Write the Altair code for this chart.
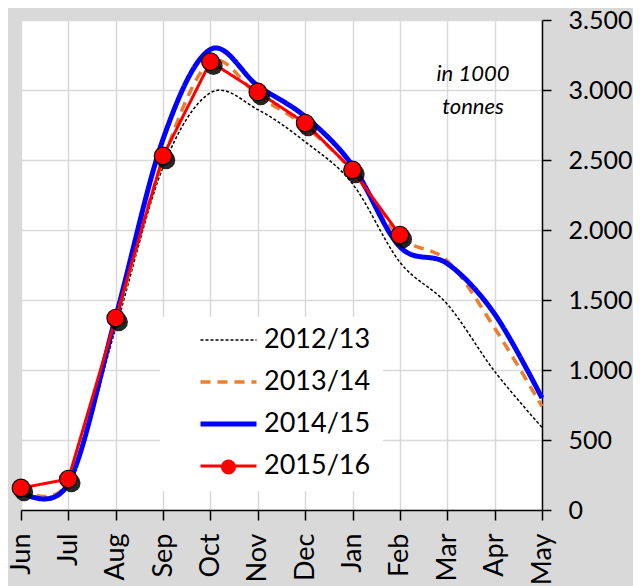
import altair as alt
import pandas as pd

months = ["Jun", "Jul", "Aug", "Sep", "Oct", "Nov", "Dec", "Jan", "Feb", "Mar", "Apr", "May"]
series_names = ["2012/13", "2013/14", "2014/15", "2015/16"]
v_2012_13 = [140, 190, 1300, 2450, 2980, 2860, 2630, 2330, 1770, 1470, 990, 590]
v_2013_14 = [150, 200, 1350, 2500, 3200, 2960, 2740, 2420, 1950, 1780, 1300, 740]
v_2014_15 = [130, 190, 1380, 2650, 3290, 3030, 2810, 2460, 1880, 1760, 1400, 800]
v_2015_16 = [157, 221, 1371, 2529, 3202, 2986, 2764, 2429, 1964]
colors = ["#000000", "#ed7d31", "#0000ff", "#ff0000"]
dashes = [[3, 2], [10, 7], [1, 0], [1, 0]]
widths = [1.5, 3.5, 5, 3]
note = "in 1000\ntonnes"

rows = []
for name, vals in zip(series_names, [v_2012_13, v_2013_14, v_2014_15, v_2015_16]):
    for m, v in zip(months, vals):
        rows.append({"month": m, "series": name, "value": v})
df = pd.DataFrame(rows)
smooth_df = df[df["series"] != "2015/16"]
cur_df = df[df["series"] == "2015/16"]

FONT = "Lato"
GRID = "#d9d9d9"

x_enc = alt.X(
    "month:N", sort=months,
    scale=alt.Scale(type="point", padding=0, domain=months),
    axis=alt.Axis(title=None, grid=True, gridColor=GRID, gridWidth=1.5,
                  domainColor="black", domainWidth=1.5, tickColor="black",
                  tickWidth=1.5, tickSize=10, labelAngle=270, labelFontSize=27,
                  labelFont=FONT, labelColor="black", labelPadding=13),
)
y_enc = alt.Y(
    "value:Q",
    scale=alt.Scale(domain=[0, 3500], nice=False),
    axis=alt.Axis(title=None, orient="right", values=list(range(0, 3501, 500)),
                  grid=True, gridColor=GRID, gridWidth=1.5,
                  domainColor="black", domainWidth=1.5, tickColor="black",
                  tickWidth=1.5, tickSize=9, labelFontSize=25, labelFont=FONT,
                  labelColor="black", labelPadding=17,
                  labelExpr="replace(format(datum.value, ',d'), ',', '.')"),
)

main_legend = alt.Legend(
    title=None, orient="none", legendX=139, legendY=297, fillColor="white",
    padding=12, symbolType="stroke", symbolSize=3136, clipHeight=22,
    rowPadding=15, labelFontSize=27, labelFont=FONT, labelColor="black",
    labelOffset=5, symbolOffset=26,
)
color_enc = alt.Color("series:N", scale=alt.Scale(domain=series_names, range=colors), legend=main_legend)
dash_enc = alt.StrokeDash("series:N", scale=alt.Scale(domain=series_names, range=dashes), legend=main_legend)
width_enc = alt.StrokeWidth("series:N", scale=alt.Scale(type="ordinal", domain=series_names, range=widths), legend=main_legend)

smooth = alt.Chart(smooth_df).mark_line(interpolate="cardinal").encode(
    x=x_enc, y=y_enc, color=color_enc, strokeDash=dash_enc, strokeWidth=width_enc
)
cur_line = alt.Chart(cur_df).mark_line().encode(
    x=x_enc, y=y_enc, color=color_enc, strokeDash=dash_enc, strokeWidth=width_enc
)
shadow = alt.Chart(cur_df).mark_circle(color="black", size=340, opacity=0.85, xOffset=3, yOffset=4).encode(
    x=x_enc, y=y_enc
)
points = alt.Chart(cur_df).mark_point(filled=True, fill="#ff0000", stroke="black", strokeWidth=1.2, size=310, opacity=1).encode(
    x=x_enc, y=y_enc,
    shape=alt.Shape("series:N", scale=alt.Scale(domain=["2015/16"], range=["circle"]),
                    legend=alt.Legend(title=None, orient="none", legendX=194, legendY=436,
                                      padding=0, symbolSize=230, symbolFillColor="#ff0000",
                                      symbolStrokeColor="black", symbolStrokeWidth=1.2,
                                      labelExpr="''", clipHeight=22, labelFontSize=27,
                                      labelFont=FONT)),
)
text = alt.Chart(pd.DataFrame({"t": [note]})).mark_text(
    lineBreak="\n", fontStyle="italic", fontSize=22, font=FONT, align="center",
    baseline="alphabetic", lineHeight=33, color="black"
).encode(x=alt.value(452), y=alt.value(61), text="t:N")

chart = alt.layer(smooth, cur_line, shadow, points, text).properties(
    width=521, height=490,
    background="#d9d9d9",
    autosize=alt.AutoSizeParams(type="none"),
    padding={"left": 13, "top": 12, "right": 91, "bottom": 76},
).configure_view(fill="white", stroke="transparent")

chart.save("out.html", embed_options={"renderer": "svg", "actions": False})
